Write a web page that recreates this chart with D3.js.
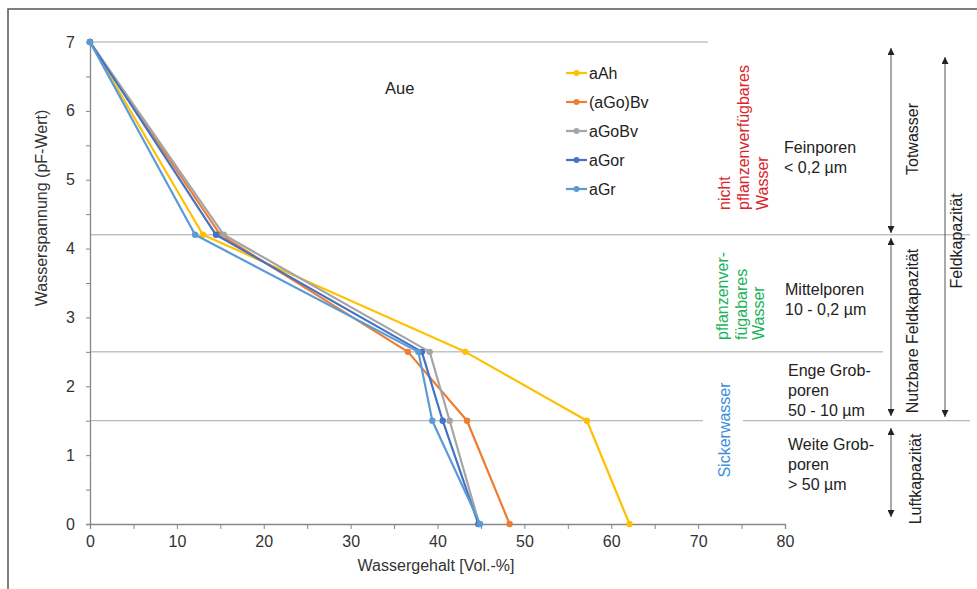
<!DOCTYPE html>
<html>
<head>
<meta charset="utf-8">
<script src="https://cdn.jsdelivr.net/npm/d3@7"></script>
<style>
  body { margin: 0; background: #fff; }
  text { font-family: "Liberation Sans", Arial, sans-serif; }
</style>
</head>
<body>
<div id="chart"></div>
<script>
// pF steps where the water content was measured
const pF = [7, 4.2, 2.5, 1.5, 0];

// water content [Vol.-%] per horizon, in the order of pF
const seriesNames = ["aAh", "(aGo)Bv", "aGoBv", "aGor", "aGr"];
const aAh    = [0, 13.0, 43.2, 57.2, 62.1];
const aGoBv_ = [0, 15.0, 36.6, 43.4, 48.3];
const aGoBv  = [0, 15.4, 39.1, 41.4, 44.8];
const aGor   = [0, 14.5, 38.2, 40.6, 44.7];
const aGr    = [0, 12.1, 37.8, 39.4, 44.9];
const seriesValues = [aAh, aGoBv_, aGoBv, aGor, aGr];
const seriesColors = ["#FFC000", "#ED7D31", "#A5A5A5", "#4472C4", "#5B9BD5"];

const xTicks = [0, 10, 20, 30, 40, 50, 60, 70, 80];
const yTicks = [0, 1, 2, 3, 4, 5, 6, 7];
const boundaries = [7, 4.2, 2.5, 1.5];

const width = 977, height = 589;
const fs = 16;

const svg = d3.select("#chart").append("svg")
    .attr("width", width)
    .attr("height", height);

const x = d3.scaleLinear().domain([0, 80]).range([90, 785]);
const y = d3.scaleLinear().domain([0, 7]).range([524, 42]);

// frame (top + left only)
svg.append("path")
    .attr("d", `M8,${height} L8,9 L${width},9`)
    .attr("fill", "none")
    .attr("stroke", "#555")
    .attr("stroke-width", 1.5);

// horizontal boundary lines
const gLines = svg.append("g")
    .attr("stroke", "#a6a6a6")
    .attr("stroke-width", 1);
const lineEnds = { 7: [[x(0), 708]], 4.2: [[x(0), 970]], 2.5: [[x(0), 883]], 1.5: [[x(0), 703], [743, 970]] };
boundaries.forEach(b => {
    lineEnds[b].forEach(seg => {
        gLines.append("line")
            .attr("x1", seg[0]).attr("x2", seg[1])
            .attr("y1", y(b)).attr("y2", y(b));
    });
});

// axes
const xAxis = d3.axisBottom(x)
    .tickValues(d3.range(0, 80.1, 5))
    .tickSize(5)
    .tickFormat(d => xTicks.includes(d) ? d : "");
const gx = svg.append("g")
    .attr("transform", `translate(0,${y(0)})`)
    .call(xAxis);

const yAxis = d3.axisLeft(y)
    .tickValues(d3.range(0, 7.01, 0.5))
    .tickSize(4)
    .tickFormat(d => yTicks.includes(d) ? d : "");
const gy = svg.append("g")
    .attr("transform", `translate(${x(0)},0)`)
    .call(yAxis);

[gx, gy].forEach(g => {
    g.select(".domain").attr("stroke", "#868686").attr("stroke-width", 1.3);
    g.selectAll(".tick line").attr("stroke", "#868686");
    g.selectAll(".tick text")
        .attr("font-size", fs)
        .attr("fill", "#333")
        .attr("font-family", "Liberation Sans, Arial, sans-serif");
});
gx.selectAll(".tick text").attr("dy", "1.05em").attr("y", 6);
gy.selectAll(".tick text").attr("x", -15);

// axis titles
svg.append("text")
    .attr("x", 436).attr("y", 571)
    .attr("text-anchor", "middle")
    .attr("font-size", fs).attr("fill", "#333")
    .text("Wassergehalt [Vol.-%]");

svg.append("text")
    .attr("transform", "translate(47,208) rotate(-90)")
    .attr("text-anchor", "middle")
    .attr("font-size", fs).attr("fill", "#333")
    .text("Wasserspannung (pF-Wert)");

// title
svg.append("text")
    .attr("x", 385).attr("y", 94)
    .attr("font-size", fs + 0.5).attr("fill", "#222")
    .text("Aue");

// series
const line = d3.line()
    .x(d => x(d[0]))
    .y(d => y(d[1]));

seriesValues.forEach((vals, i) => {
    const pts = vals.map((v, j) => [v, pF[j]]);
    const g = svg.append("g");
    g.append("path")
        .datum(pts)
        .attr("d", line)
        .attr("fill", "none")
        .attr("stroke", seriesColors[i])
        .attr("stroke-width", 2.2)
        .attr("stroke-linejoin", "round");
    g.selectAll("circle")
        .data(pts)
        .join("circle")
        .attr("cx", d => x(d[0]))
        .attr("cy", d => y(d[1]))
        .attr("r", 3.2)
        .attr("fill", seriesColors[i]);
});

// legend
const legend = svg.append("g").attr("transform", "translate(566,73)");
seriesNames.forEach((name, i) => {
    const row = legend.append("g").attr("transform", `translate(0,${i * 29})`);
    row.append("line")
        .attr("x1", 0).attr("x2", 21)
        .attr("stroke", seriesColors[i]).attr("stroke-width", 2.2);
    row.append("circle").attr("cx", 10.5).attr("r", 3).attr("fill", seriesColors[i]);
    row.append("text")
        .attr("x", 23).attr("y", 5.5)
        .attr("font-size", fs).attr("fill", "#222")
        .text(name);
});

// rotated multi-line text helper
function vtext(lines, xs, yStart, color, anchor) {
    lines.forEach((t, i) => {
        svg.append("text")
            .attr("transform", `translate(${xs[i]},${yStart}) rotate(-90)`)
            .attr("text-anchor", anchor || "start")
            .attr("font-size", fs)
            .attr("fill", color)
            .text(t);
    });
}

vtext(["nicht", "pflanzenverfügbares", "Wasser"], [730, 749, 768], 210, "#D8262B");
vtext(["pflanzenver-", "fügabares", "Wasser"], [728, 746.5, 764], 340, "#1DB35A");
vtext(["Sickerwasser"], [730], 430, "#3D8FDB", "middle");

// pore classes
function htext(lines, x0, y0) {
    lines.forEach((t, i) => {
        svg.append("text")
            .attr("x", x0).attr("y", y0 + i * 20)
            .attr("font-size", fs).attr("fill", "#222")
            .text(t);
    });
}
htext(["Feinporen", "< 0,2 µm"], 784, 153);
htext(["Mittelporen", "10 - 0,2 µm"], 785, 295);
htext(["Enge Grob-", "poren", "50 - 10 µm"], 788, 376);
htext(["Weite Grob-", "poren", "> 50 µm"], 788, 450);

// arrows
svg.append("defs").append("marker")
    .attr("id", "ah")
    .attr("viewBox", "0 0 10 10")
    .attr("refX", 10).attr("refY", 5)
    .attr("markerWidth", 7).attr("markerHeight", 7)
    .attr("markerUnits", "userSpaceOnUse")
    .attr("orient", "auto-start-reverse")
    .append("path")
    .attr("d", "M0,0 L10,5 L0,10 Z")
    .attr("fill", "#222");

function arrow(xa, y1, y2) {
    svg.append("line")
        .attr("x1", xa).attr("x2", xa)
        .attr("y1", y1).attr("y2", y2)
        .attr("stroke", "#555").attr("stroke-width", 1)
        .attr("marker-start", "url(#ah)")
        .attr("marker-end", "url(#ah)");
}
arrow(891, 48, 233);
arrow(891, 238, 416);
arrow(891, 428, 517);
arrow(945, 57, 417);

vtext(["Totwasser"], [918], 139, "#222", "middle");
vtext(["Nutzbare Feldkapazität"], [918], 331, "#222", "middle");
vtext(["Luftkapazität"], [921], 479, "#222", "middle");
vtext(["Feldkapazität"], [962], 241, "#222", "middle");
</script>
</body>
</html>
